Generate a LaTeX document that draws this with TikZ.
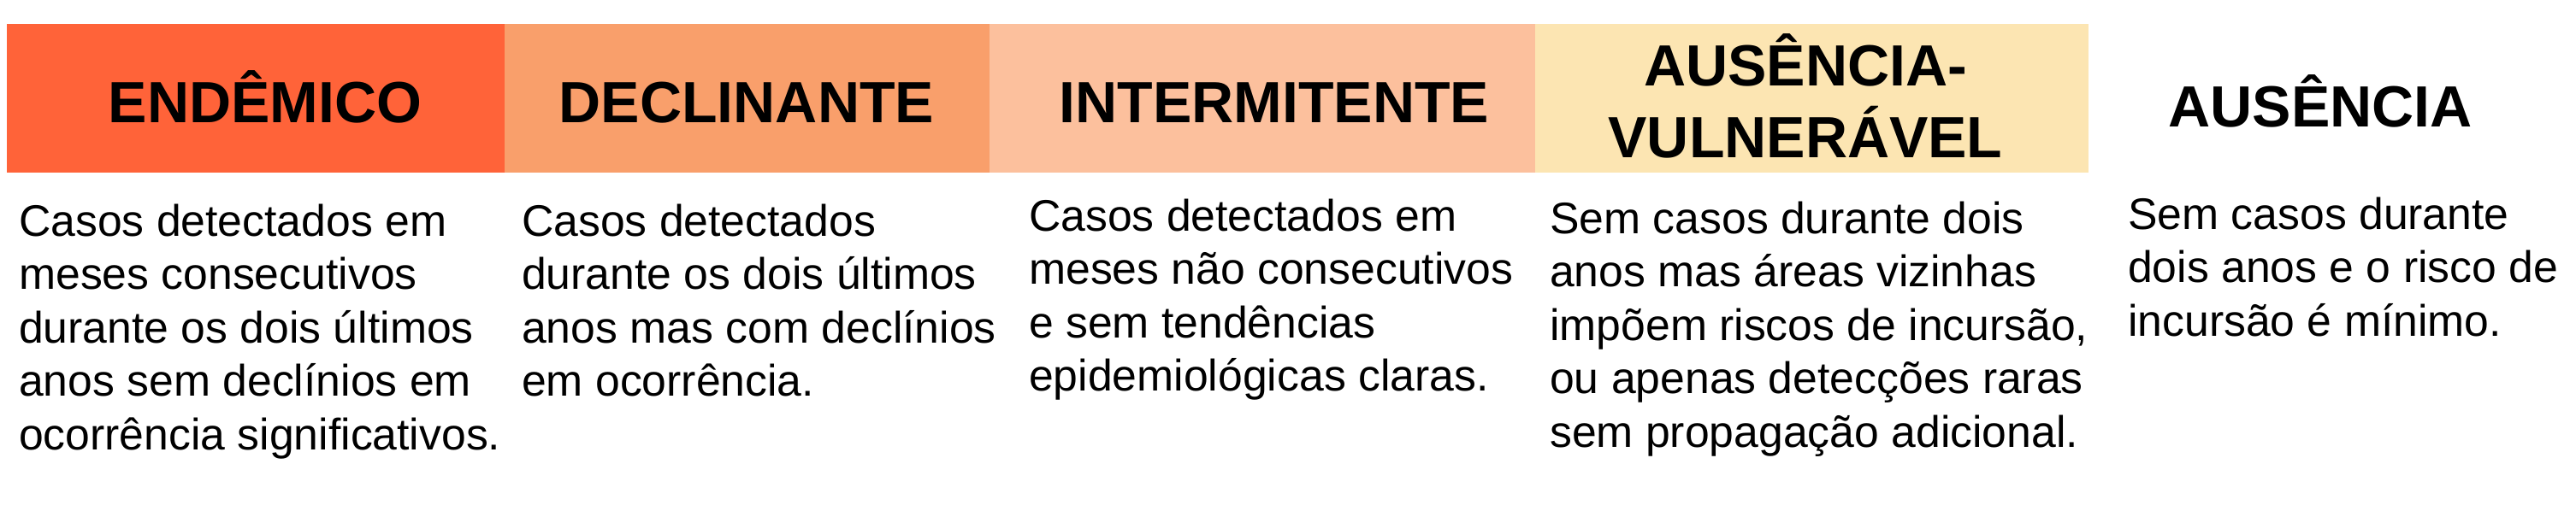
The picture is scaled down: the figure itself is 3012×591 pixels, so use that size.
\documentclass[tikz,border=0pt]{standalone}
\usepackage{fontspec}
\setmainfont{Liberation Sans}
\definecolor{cA}{RGB}{255,99,57}
\definecolor{cB}{RGB}{249,159,107}
\definecolor{cC}{RGB}{252,192,157}
\definecolor{cD}{RGB}{252,229,178}
\begin{document}
\begin{tikzpicture}[x=1pt,y=-1pt,
  band/.style={draw=none, inner sep=0pt, outer sep=0pt, minimum height=174pt, anchor=north west},
  title/.style={inner sep=0pt, anchor=base, font=\fontsize{68}{84}\selectfont\bfseries},
  body/.style={inner sep=0pt, anchor=base west, font=\fontsize{51.7}{62.5}\selectfont}]
\useasboundingbox (0,0) rectangle (3012,591);
\node[band, fill=cA, minimum width=582pt] (b1) at (8,28) {};
\node[band, fill=cB, minimum width=567pt] (b2) at (590,28) {};
\node[band, fill=cC, minimum width=638pt] (b3) at (1157,28) {};
\node[band, fill=cD, minimum width=647pt] (b4) at (1795,28) {};

\node[title] (h1) at (310,143) {ENDÊMICO};
\node[title] (h2) at (873,143) {DECLINANTE};
\node[title] (h3) at (1490,143) {INTERMITENTE};
\node[title] (h4) at (2111,101) {\parbox[t]{600pt}{\centering AUSÊNCIA-\\VULNERÁVEL}};
\node[title] (h5) at (2713,149) {AUSÊNCIA};

\node[body] (t1) at (22,276) {\parbox[t]{600pt}{\raggedright Casos detectados em\\meses consecutivos\\durante os dois últimos\\anos sem declínios em\\ocorrência significativos.}};
\node[body] (t2) at (610,276) {\parbox[t]{600pt}{\raggedright Casos detectados\\durante os dois últimos\\anos mas com declínios\\em ocorrência.}};
\node[body] (t3) at (1203,270) {\parbox[t]{600pt}{\raggedright Casos detectados em\\meses não consecutivos\\e sem tendências\\epidemiológicas claras.}};
\node[body] (t4) at (1812,273) {\parbox[t]{650pt}{\raggedright Sem casos durante dois\\anos mas áreas vizinhas\\impõem riscos de incursão,\\ou apenas detecções raras\\sem propagação adicional.}};
\node[body] (t5) at (2488,268) {\parbox[t]{520pt}{\raggedright Sem casos durante\\dois anos e o risco de\\incursão é mínimo.}};
\end{tikzpicture}
\end{document}
